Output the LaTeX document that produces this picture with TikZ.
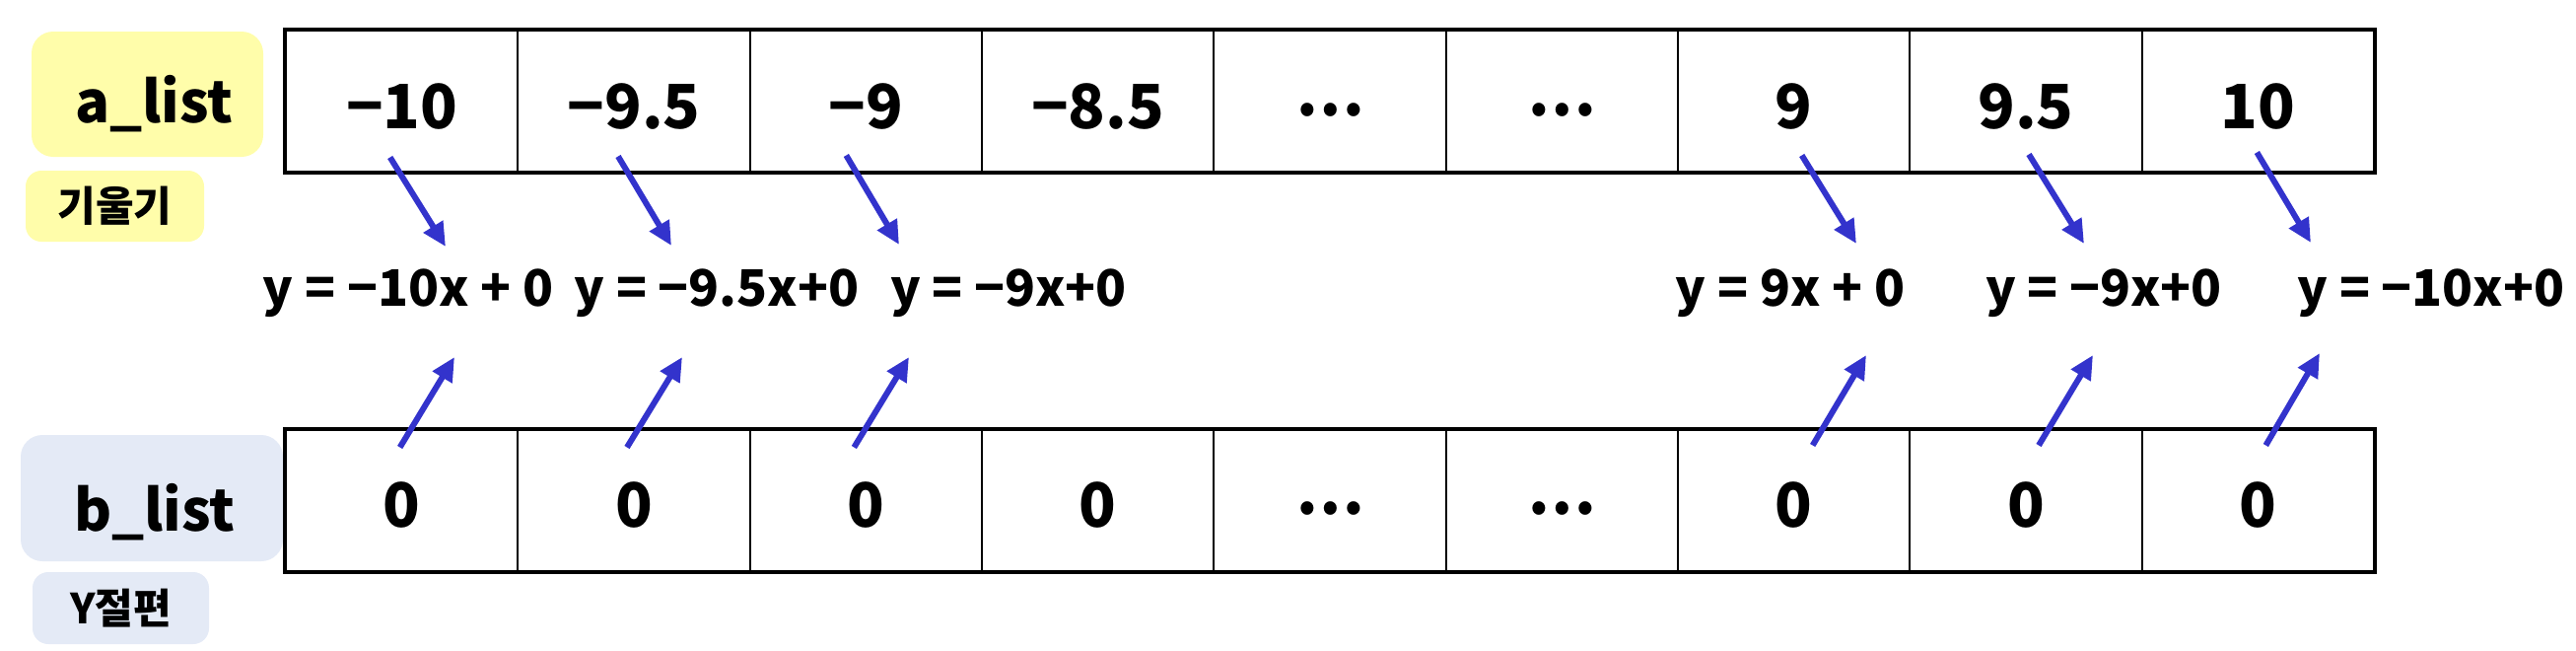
\documentclass[tikz,border=0pt]{standalone}
\usepackage{fontspec}
\setmainfont{Noto Sans CJK KR Black}
\usetikzlibrary{arrows.meta,positioning}
\definecolor{slopeyellow}{HTML}{FFFDAA}
\definecolor{interblue}{HTML}{E4EAF6}
\definecolor{arrowblue}{HTML}{3333CC}
\newcommand{\middots}{\raisebox{13pt}{⋯}}

\begin{document}
\begin{tikzpicture}[x=1pt, y=-1pt,
    cell/.style={draw, line width=2.2pt, minimum width=235.33pt, minimum height=143pt,
        inner sep=0pt, text height=55pt, text depth=0pt, font=\fontsize{62}{70}\selectfont},
    eqn/.style={anchor=base, inner sep=0pt, font=\fontsize{51}{60}\selectfont},
    listlabel/.style={rounded corners=22pt, inner sep=0pt, font=\fontsize{58}{70}\selectfont},
    tag/.style={rounded corners=16pt, inner sep=0pt, font=\fontsize{42}{50}\selectfont},
    arr/.style={draw=arrowblue, line width=6pt, -{Triangle[length=24pt,width=22pt]}}]
    \useasboundingbox (0,0) rectangle (2613,659);

    % labels on the left
    \node[listlabel, fill=slopeyellow, minimum width=235pt, minimum height=127pt,
        text height=57pt, text depth=0pt] (alab) at (149.5,95.5) {\hspace*{14pt}a\_list};
    \node[tag, fill=slopeyellow, minimum width=181pt, minimum height=72pt] (atag) at (116.5,209) {기울기};
    \node[listlabel, fill=interblue, minimum width=266pt, minimum height=128pt,
        text height=66pt, text depth=0pt] (blab) at (154,505) {\hspace*{6pt}b\_list};
    \node[tag, fill=interblue, minimum width=179pt, minimum height=73pt] (btag) at (122.5,616.5) {Y절편};

    % a_list cells
    \node[cell] (a1) at (407.67,102.5) {−10};
    \node[cell] (a2) at (643,102.5) {−9.5};
    \node[cell] (a3) at (878.33,102.5) {−9};
    \node[cell] (a4) at (1113.67,102.5) {−8.5};
    \node[cell] (a5) at (1349,102.5) {\middots};
    \node[cell] (a6) at (1584.33,102.5) {\middots};
    \node[cell] (a7) at (1819.67,102.5) {9};
    \node[cell] (a8) at (2055,102.5) {9.5};
    \node[cell] (a9) at (2290.33,102.5) {10};
    \draw[line width=3.5pt] (a1.north west) rectangle (a9.south east);

    % b_list cells
    \node[cell, text height=54pt] (b1) at (407.67,507.5) {0};
    \node[cell, text height=54pt] (b2) at (643,507.5) {0};
    \node[cell, text height=54pt] (b3) at (878.33,507.5) {0};
    \node[cell, text height=54pt] (b4) at (1113.67,507.5) {0};
    \node[cell, text height=54pt] (b5) at (1349,507.5) {\middots};
    \node[cell, text height=54pt] (b6) at (1584.33,507.5) {\middots};
    \node[cell, text height=54pt] (b7) at (1819.67,507.5) {0};
    \node[cell, text height=54pt] (b8) at (2055,507.5) {0};
    \node[cell, text height=54pt] (b9) at (2290.33,507.5) {0};
    \draw[line width=3.5pt] (b1.north west) rectangle (b9.south east);

    % equations
    \node[eqn] (e1) at (414,310) {y = −10x + 0};
    \node[eqn] (e2) at (727,310) {y = −9.5x+0};
    \node[eqn] (e3) at (1023,310) {y = −9x+0};
    \node[eqn] (e7) at (1816,310) {y = 9x + 0};
    \node[eqn] (e8) at (2134,310) {y = −9x+0};
    \node[eqn] (e9) at (2466,310) {y = −10x+0};

    % slopes down to the equations
    \draw[arr] ([shift={(-12,57)}]a1.center) -- ([shift={(38,-60)}]e1.base);
    \draw[arr] ([shift={(-16,56)}]a2.center) -- ([shift={(-46,-61)}]e2.base);
    \draw[arr] ([shift={(-20,55)}]a3.center) -- ([shift={(-111,-62)}]e3.base);
    \draw[arr] ([shift={(8,55)}]a7.center) -- ([shift={(67,-63)}]e7.base);
    \draw[arr] ([shift={(3,54)}]a8.center) -- ([shift={(-20,-63)}]e8.base);
    \draw[arr] ([shift={(-1,52)}]a9.center) -- ([shift={(-122,-64)}]e9.base);

    % intercepts up to the equations
    \draw[arr] ([shift={(-2,-54)}]b1.center) -- ([shift={(47,52)}]e1.base);
    \draw[arr] ([shift={(-7,-54)}]b2.center) -- ([shift={(-35,52)}]e2.base);
    \draw[arr] ([shift={(-12,-54)}]b3.center) -- ([shift={(-101,52)}]e3.base);
    \draw[arr] ([shift={(19,-56)}]b7.center) -- ([shift={(77,50)}]e7.base);
    \draw[arr] ([shift={(13,-56)}]b8.center) -- ([shift={(-11,50)}]e8.base);
    \draw[arr] ([shift={(8,-56)}]b9.center) -- ([shift={(-113,48)}]e9.base);
\end{tikzpicture}
\end{document}
